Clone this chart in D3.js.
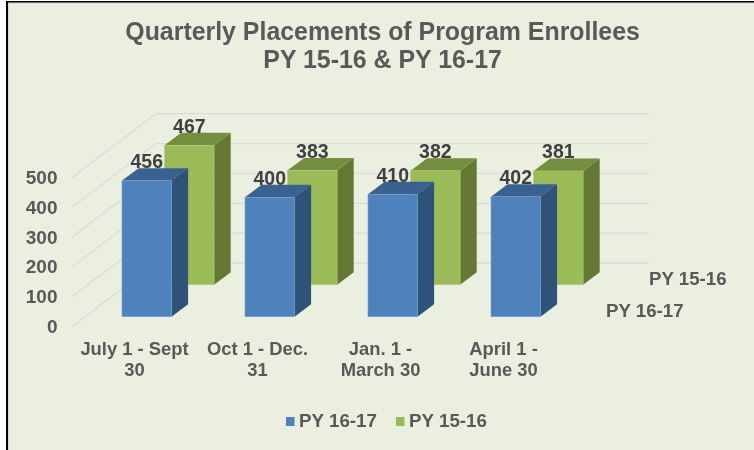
<!DOCTYPE html>
<html>
<head>
<meta charset="utf-8">
<script src="https://cdn.jsdelivr.net/npm/d3@7"></script>
<style>
  html, body { margin: 0; padding: 0; background: #fff; }
  svg { display: block; filter: blur(0.35px); }
  text { font-family: "Liberation Sans", Arial, sans-serif; font-weight: bold; fill: #595959; }
</style>
</head>
<body>
<script>
const categories = ["July 1 - Sept|30", "Oct 1 - Dec.|31", "Jan. 1 -|March 30", "April 1 -|June 30"];
const py1617 = [456, 400, 410, 402];
const py1516 = [467, 383, 382, 381];
const yTicks = [0, 100, 200, 300, 400, 500];
const titleLines = ["Quarterly Placements of Program Enrollees", "PY 15-16 & PY 16-17"];

const width = 754, height = 450;

// fake 3d: each row is shifted back by its own offset
const series = [
  { name: "PY 15-16", values: py1516, dx: 42.6, dy: -32, face: "#9BBB59", edge: "#AFCA7A", side: "#657833", top: "#748D3F" },
  { name: "PY 16-17", values: py1617, dx: 0, dy: 0, face: "#4F81BD", edge: "#76A0D2", side: "#2F5279", top: "#3A6192" }
];
const depth = { x: 16.6, y: -12.4 };

const svg = d3.select("body").append("svg")
  .attr("width", width)
  .attr("height", height);

// screenshot frame: white strip, black edge, thin grey inner line
svg.append("rect")
  .attr("width", width).attr("height", height)
  .attr("fill", "#fff");
svg.append("rect")
  .attr("x", 6).attr("y", 1)
  .attr("width", width - 6).attr("height", height - 1)
  .attr("fill", "#000");
svg.append("rect")
  .attr("x", 8).attr("y", 2.5)
  .attr("width", width - 8).attr("height", height - 2.5)
  .attr("fill", "#D5D8CC");
svg.append("rect")
  .attr("x", 9).attr("y", 3.5)
  .attr("width", width - 9).attr("height", height - 3.5)
  .attr("fill", "#EBEFDF");

const y = d3.scaleLinear().domain([0, 500]).range([316.7, 167.4]);
const x = d3.scaleBand()
  .domain(categories)
  .range([122, 540.5])
  .paddingInner(0.5976)
  .paddingOuter(0);

// back wall and side wall gridlines
const wall = { x0: 72, x1: 156, x2: 649, front: 10, back: -53.7 };
const grid = svg.append("g")
  .attr("fill", "none")
  .attr("stroke", "#D9DCDF")
  .attr("stroke-width", 1.3);
grid.selectAll("path")
  .data(yTicks)
  .join("path")
  .attr("d", d => `M${wall.x0},${y(d) + wall.front}L${wall.x1},${y(d) + wall.back}L${wall.x2},${y(d) + wall.back}`);

// bars, back row first
series.forEach(s => {
  const g = svg.append("g")
    .attr("transform", `translate(${s.dx},${s.dy})`);
  const bar = g.selectAll("g")
    .data(categories.map((c, i) => ({ c, v: s.values[i] })))
    .join("g");
  bar.append("path")
    .attr("fill", s.side)
    .attr("d", d => {
      const r = x(d.c) + x.bandwidth();
      return `M${r},${y(d.v)}l${depth.x},${depth.y}L${r + depth.x},${y(0) + depth.y}L${r},${y(0)}Z`;
    });
  bar.append("path")
    .attr("fill", s.top)
    .attr("d", d => `M${x(d.c)},${y(d.v)}l${depth.x},${depth.y}h${x.bandwidth()}l${-depth.x},${-depth.y}Z`);
  bar.append("rect")
    .attr("fill", s.face)
    .attr("stroke", s.edge)
    .attr("stroke-width", 0.6)
    .attr("x", d => x(d.c))
    .attr("y", d => y(d.v))
    .attr("width", x.bandwidth())
    .attr("height", d => y(0) - y(d.v));
});

// value labels go last, they sit over the neighbouring bars
series.forEach(s => {
  svg.append("g").selectAll("text")
    .data(categories.map((c, i) => ({ c, v: s.values[i] })))
    .join("text")
    .attr("x", d => x(d.c) + x.bandwidth() / 2 + s.dx)
    .attr("y", d => y(d.v) + s.dy - 12.6)
    .attr("text-anchor", "middle")
    .style("font-size", "19.5px")
    .style("fill", "#404040")
    .text(d => d.v);
});

// value axis
const yAxis = svg.append("g")
  .attr("transform", "translate(57.5,10)")
  .call(d3.axisLeft(y).tickValues(yTicks).tickSize(0).tickPadding(0));
yAxis.select(".domain").remove();
yAxis.attr("font-family", null).attr("font-size", null);
yAxis.selectAll("text")
  .style("font-size", "19px")
  .attr("dy", "0.31em");

// category labels
const catLabels = svg.append("g").selectAll("text")
  .data(categories)
  .join("text")
  .attr("text-anchor", "middle")
  .style("font-size", "18.4px");
catLabels.each(function(d) {
  d3.select(this).selectAll("tspan")
    .data(d.split("|"))
    .join("tspan")
    .attr("x", x(d) + x.bandwidth() / 2 - 12.2)
    .attr("y", (t, i) => 355 + i * 20.5)
    .text(t => t);
});

// depth axis labels
svg.append("g").selectAll("text")
  .data(series)
  .join("text")
  .attr("x", (d, i) => i === 0 ? 649 : 606)
  .attr("y", (d, i) => i === 0 ? 285 : 316.5)
  .style("font-size", "18.7px")
  .text(d => d.name);

// title
svg.append("g").selectAll("text")
  .data(titleLines)
  .join("text")
  .attr("x", 382.6)
  .attr("y", (d, i) => 40 + i * 28)
  .attr("text-anchor", "middle")
  .style("font-size", "24.9px")
  .text(d => d);

// legend
const legendItems = [series[1], series[0]];
const legendX = [286, 396];
const legend = svg.append("g").selectAll("g")
  .data(legendItems)
  .join("g")
  .attr("transform", (d, i) => `translate(${legendX[i]},417)`);
legend.append("rect")
  .attr("width", 8.5)
  .attr("height", 9)
  .attr("fill", d => d.face);
legend.append("text")
  .attr("x", 13)
  .attr("y", 9.7)
  .style("font-size", "18.8px")
  .text(d => d.name);
</script>
</body>
</html>
